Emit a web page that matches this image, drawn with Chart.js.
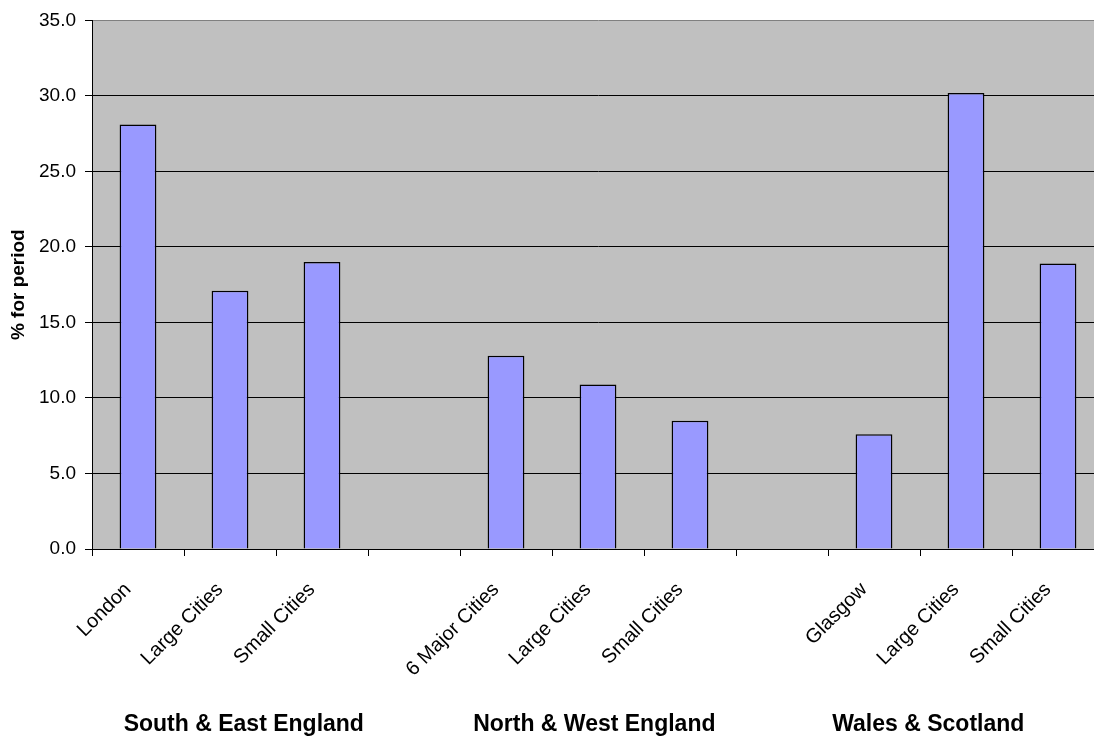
<!DOCTYPE html>
<html>
<head>
<meta charset="utf-8">
<script src="https://cdn.jsdelivr.net/npm/chart.js@4/dist/chart.umd.min.js"></script>
<style>
  html, body { margin: 0; padding: 0; background: #fff; overflow: hidden; }
  #chart { display: block; }
</style>
</head>
<body>
<canvas id="chart" width="1106" height="738"></canvas>
<script>
  const categories = ['London', 'Large Cities', 'Small Cities', '', '6 Major Cities', 'Large Cities', 'Small Cities', '', 'Glasgow', 'Large Cities', 'Small Cities'];
  const percentForPeriod = [28.1, 17.1, 19.0, null, 12.8, 10.9, 8.5, null, 7.6, 30.2, 18.9];
  const regionNames = ['South & East England', 'North & West England', 'Wales & Scotland'];
  const yMin = 0;
  const yMax = 35;
  const yStep = 5;

  // where each region caption sits, in category units (the original places them by hand)
  const regionAnchors = [1.15, 4.96, 8.59];

  const fontFamily = '"Liberation Sans", Arial, sans-serif';

  const plotBackground = {
    id: 'plotBackground',
    beforeDraw(chart) {
      const { ctx, chartArea } = chart;
      ctx.save();
      ctx.fillStyle = '#C0C0C0';
      ctx.fillRect(chartArea.left, chartArea.top, chartArea.right - chartArea.left, chartArea.bottom - chartArea.top);
      ctx.restore();
    }
  };

  const regionLabels = {
    id: 'regionLabels',
    afterDraw(chart) {
      const { ctx } = chart;
      const xScale = chart.scales.x;
      ctx.save();
      ctx.fillStyle = '#000';
      ctx.font = `bold 23px ${fontFamily}`;
      ctx.textAlign = 'center';
      ctx.textBaseline = 'alphabetic';
      regionNames.forEach((name, i) => {
        const whole = Math.floor(regionAnchors[i]);
        const frac = regionAnchors[i] - whole;
        const x0 = xScale.getPixelForValue(whole);
        const x1 = xScale.getPixelForValue(whole + 1);
        ctx.fillText(name, x0 + (x1 - x0) * frac, 731);
      });
      ctx.restore();
    }
  };

  new Chart(document.getElementById('chart'), {
    type: 'bar',
    data: {
      labels: categories,
      datasets: [{
        data: percentForPeriod,
        backgroundColor: '#9999FF',
        borderColor: '#000',
        borderWidth: 1.5,
        barPercentage: 0.4,
        categoryPercentage: 1.0
      }]
    },
    options: {
      responsive: false,
      animation: false,
      layout: { padding: { top: 18, right: 2, bottom: 0, left: 0 } },
      plugins: {
        legend: { display: false },
        tooltip: { enabled: false }
      },
      scales: {
        x: {
          grid: {
            drawOnChartArea: false,
            drawTicks: true,
            tickLength: 7,
            tickColor: '#000'
          },
          border: { color: '#000', width: 1 },
          ticks: {
            autoSkip: false,
            maxRotation: 45,
            minRotation: 45,
            padding: 22,
            labelOffset: -10,
            color: '#000',
            font: { family: fontFamily, size: 20 }
          },
          afterFit: (scale) => { scale.height = 189; }
        },
        y: {
          min: yMin,
          max: yMax,
          grid: {
            color: (ctx) => (ctx.tick && ctx.tick.value === yMax ? '#808080' : '#000'),
            tickColor: '#000',
            tickLength: 7,
            lineWidth: 1
          },
          border: { color: '#000', width: 1 },
          ticks: {
            stepSize: yStep,
            padding: 9,
            color: '#000',
            font: { family: fontFamily, size: 19 },
            callback: (value) => Number(value).toFixed(1)
          },
          title: {
            display: true,
            text: '% for period',
            color: '#000',
            padding: { top: 7, bottom: 0 },
            font: { family: fontFamily, size: 19, weight: 'bold' }
          },
          afterFit: (scale) => { scale.width = 92; }
        }
      }
    },
    plugins: [plotBackground, regionLabels]
  });
</script>
</body>
</html>
